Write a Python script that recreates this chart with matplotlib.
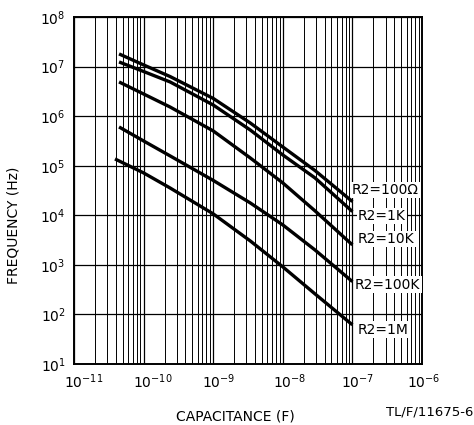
import matplotlib
matplotlib.use('Agg')
from matplotlib import pyplot as plt
from matplotlib.ticker import FixedLocator, LogLocator, NullFormatter
from matplotlib.transforms import ScaledTranslation

# capacitance (F) sample points
cap = [4.44e-11, 1e-10, 2.4e-10, 1e-9, 3.4e-9, 1e-8, 2.9e-8, 1e-7]
cap_1m = [3.88e-11, 1e-10, 2.4e-10, 1e-9, 3.4e-9, 1e-8, 2.9e-8, 1e-7]

# frequency (Hz) for each R2
f_100 = [1.8e7, 1.08e7, 6.3e6, 2.28e6, 7.3e5, 2.39e5, 8.0e4, 1.89e4]
f_1k = [1.24e7, 7.96e6, 4.9e6, 1.68e6, 5.27e5, 1.65e5, 5.68e4, 1.19e4]
f_10k = [4.9e6, 2.8e6, 1.53e6, 5.04e5, 1.44e5, 4.5e4, 1.23e4, 2.53e3]
f_100k = [6.05e5, 3.16e5, 1.58e5, 5.06e4, 1.78e4, 6.4e3, 2.0e3, 460]
f_1m = [1.37e5, 7.16e4, 3.56e4, 1.07e4, 3.05e3, 912, 260, 61.7]

x_ticks = [1e-11, 1e-10, 1e-9, 1e-8, 1e-7, 1e-6]
y_ticks = [1e1, 1e2, 1e3, 1e4, 1e5, 1e6, 1e7, 1e8]

labels = ['R2=100Ω', 'R2=1K', 'R2=10K', 'R2=100K', 'R2=1M']
label_pos = [(9.9e-8, 3.25e4), (1.2e-7, 9.7e3), (1.2e-7, 3.34e3), (1.09e-7, 3.95e2), (1.2e-7, 49)]

fig = plt.figure(figsize=(4.74, 4.25), dpi=100)
ax = fig.add_axes([0.1561, 0.1435, 0.7342, 0.8165])
ax.set_xscale('log')
ax.set_yscale('log')
ax.set_xlim(1e-11, 1e-6)
ax.set_ylim(1e1, 1e8)

ax.xaxis.set_major_locator(FixedLocator(x_ticks))
ax.xaxis.set_minor_locator(LogLocator(base=10, subs=range(2, 10), numticks=20))
ax.xaxis.set_minor_formatter(NullFormatter())
ax.yaxis.set_major_locator(FixedLocator(y_ticks))
ax.yaxis.set_minor_locator(FixedLocator([]))

ax.grid(True, which='major', axis='both', color='black', linewidth=0.9)
ax.grid(True, which='minor', axis='x', color='black', linewidth=0.7)
ax.set_axisbelow(True)
ax.tick_params(which='both', length=0, labelsize=10, pad=6)
for s in ax.spines.values():
    s.set_linewidth(1.4)

series = [(cap, f_100), (cap, f_1k), (cap, f_10k), (cap, f_100k), (cap_1m, f_1m)]
for (c, f) in series:
    ax.plot(c, f, color='black', linewidth=2.4, solid_capstyle='butt')

for text, (x, y) in zip(labels, label_pos):
    ax.text(x, y, text, fontsize=10, ha='left', va='center', zorder=5,
            bbox=dict(facecolor='white', edgecolor='none', pad=1.0))

# the original x labels sit a little right of their ticks
fig.canvas.draw()
shifts = [10, 9.5, 6, 7, 5, 2]
for lab, dx in zip(ax.get_xticklabels(), shifts):
    lab.set_transform(lab.get_transform() + ScaledTranslation(dx / 100, 0, fig.dpi_scale_trans))

ax.set_xlabel('CAPACITANCE (F)', fontsize=10)
ax.set_ylabel('FREQUENCY (Hz)', fontsize=10)
ax.xaxis.set_label_coords(0.464, -0.132)
ax.yaxis.set_label_coords(-0.155, 0.40)
fig.text(0.998, 0.03, 'TL/F/11675-6', ha='right', va='center', fontsize=9.5)

fig.savefig('out.png', dpi=100)
